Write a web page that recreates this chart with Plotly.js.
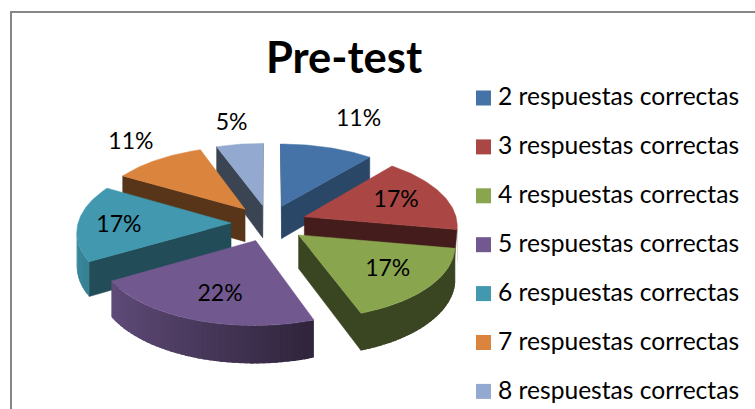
<!DOCTYPE html>
<html>
<head>
<meta charset="utf-8">
<script src="https://cdn.plot.ly/plotly-3.0.1.min.js"></script>
<style>html,body{margin:0;padding:0;background:#fff;overflow:hidden}</style>
</head>
<body>
<div id="chart" style="width:755px;height:409px"></div>
<script>
// ---- data ----
const categories = ["2 respuestas correctas","3 respuestas correctas","4 respuestas correctas","5 respuestas correctas","6 respuestas correctas","7 respuestas correctas","8 respuestas correctas"];
const values = [2,3,3,4,3,2,1];
const percentLabels = ["11%","17%","17%","22%","17%","11%","5%"];
const chartTitle = "Pre-test";

// ---- styles ----
const colors = ["#4572A7","#AA4643","#89A54E","#71588F","#4198AF","#DB843D","#93A9CF"];
const wallShade = [0.62,0.40,0.42,0.62,0.50,0.40,0.40];
const labelRadius = [1.58,0.66,0.70,0.70,0.73,1.37,1.40];
const labelTurn = [2.5,1,0,-3,-3,1,0];
const paintOrder = [0,6,5,1,4,2,3];
const FONT = "Lato, Carlito, Calibri, sans-serif";

// ---- 3D projection of the exploded disk ----
const G = {cx:269, cy:223, rx:153, ya:73.6, yb:7.74, k:0.105, depth:33, explode:0.248};
function project(X,Y,h){
  const p = 1/(1-G.k*Y);
  return [G.cx+G.rx*X*p, G.cy+G.ya*Y+G.yb*Y*Y+h*G.depth*p];
}
function shade(hex,f){
  const n=parseInt(hex.slice(1),16);
  return "rgb("+[(n>>16)&255,(n>>8)&255,n&255].map(c=>Math.round(c*f)).join(",")+")";
}
const rad = d=>d*Math.PI/180;
const total = values.reduce((a,b)=>a+b,0);
let acc=0;
const slices = values.map((v,i)=>{
  const a0=acc/total*360; acc+=v; const a1=acc/total*360;
  const m=(a0+a1)/2;
  return {i,a0,a1,m,ox:G.explode*Math.sin(rad(m)),oy:-G.explode*Math.cos(rad(m))};
});
function outer(s,a,h){ return project(s.ox+Math.sin(rad(a)),s.oy-Math.cos(rad(a)),h); }
function apex(s,h){ return project(s.ox,s.oy,h); }
function poly(pts,color,name,lw){
  const xs=pts.map(p=>p[0]).concat(pts[0][0]);
  const ys=pts.map(p=>p[1]).concat(pts[0][1]);
  return {type:"scatter",mode:"lines",x:xs,y:ys,fill:"toself",fillcolor:color,
    line:{color:color,width:lw===undefined?0.5:lw},hoverinfo:"skip",showlegend:false,name:name||""};
}
const traces=[];
paintOrder.forEach(idx=>{
  const s=slices[idx], col=colors[idx], wc=shade(col,wallShade[idx]);
  const A=apex(s,0), A2=apex(s,1);
  const S=outer(s,s.a0,0), S2=outer(s,s.a0,1), E=outer(s,s.a1,0), E2=outer(s,s.a1,1);
  // the lower edge of an end wall stays behind a neighbouring slice whose corner nearly meets it
  const next=slices[(idx+1)%slices.length];
  const nextS=outer(next,next.a0,0);
  if(Math.abs(E[0]-nextS[0])<6 && E2[0]>nextS[0] && E[0]>A[0]) E2[0]=nextS[0]-1;
  if(A[0]>S[0]) traces.push(poly([A,S,S2,A2],wc));
  if(E[0]>A[0]) traces.push(poly([E,A,A2,E2],wc));
  const step=2;
  // segments overlap the next one, so no seams show between them
  for(let a=s.a1-step;a>s.a0-step;a-=step){
    const lo=Math.max(a,s.a0), hi=Math.min(a+step+1.5,s.a1);
    const P=outer(s,lo,0),Q=outer(s,hi,0);
    if(P[0]>Q[0]){
      const nx=Math.sin(rad(lo+step/2));
      const f=Math.max(0.42,0.54-0.356*nx);
      traces.push(poly([P,Q,outer(s,hi,1),outer(s,lo,1)],shade(col,f),"",0));
    }
  }
  const top=[A];
  for(let a=s.a0;a<s.a1;a+=1) top.push(outer(s,a,0));
  top.push(E);
  traces.push(poly(top,col,categories[idx]));
});
// percent labels
function labelPos(s){ const r=labelRadius[s.i], m=s.m+labelTurn[s.i]; return project(s.ox+r*Math.sin(rad(m)),s.oy-r*Math.cos(rad(m)),0); }
traces.push({type:"scatter",mode:"text",hoverinfo:"skip",showlegend:false,
  x:slices.map(s=>labelPos(s)[0]),
  y:slices.map(s=>labelPos(s)[1]),
  text:percentLabels,
  textposition:"middle center",
  textfont:{family:FONT,size:23,color:"#000"}});
// legend
const L={sx:483.5,tx:498,y0:98,dy:48.9};
categories.forEach((c,i)=>{
  traces.push({type:"scatter",mode:"markers",x:[L.sx],y:[L.y0+i*L.dy],name:c,hoverinfo:"skip",showlegend:false,
    marker:{symbol:"square",size:15,color:colors[i],line:{width:0}}});
});
traces.push({type:"scatter",mode:"text",hoverinfo:"skip",showlegend:false,
  x:categories.map(()=>L.tx),y:categories.map((c,i)=>L.y0+1+i*L.dy),text:categories,
  textposition:"middle right",textfont:{family:FONT,size:24.6,color:"#000"}});

const layout={
  width:755,height:409,margin:{l:0,r:0,t:0,b:0},
  paper_bgcolor:"#fff",plot_bgcolor:"#fff",showlegend:false,
  title:{text:chartTitle,x:344/755,xanchor:"center",y:1-58/409,yanchor:"middle",
    font:{family:FONT,size:43.5,color:"#000",weight:700}},
  xaxis:{range:[0,755],visible:false,fixedrange:true},
  yaxis:{range:[409,0],visible:false,fixedrange:true},
  shapes:[
    {type:"line",xref:"x",yref:"y",x0:11,x1:11,y0:11,y1:409,line:{color:"#868686",width:2}},
    {type:"line",xref:"x",yref:"y",x0:10,x1:755,y0:12,y1:12,line:{color:"#868686",width:2}}
  ]
};
Plotly.newPlot("chart",traces,layout,{displayModeBar:false,staticPlot:true});
</script>
</body>
</html>
